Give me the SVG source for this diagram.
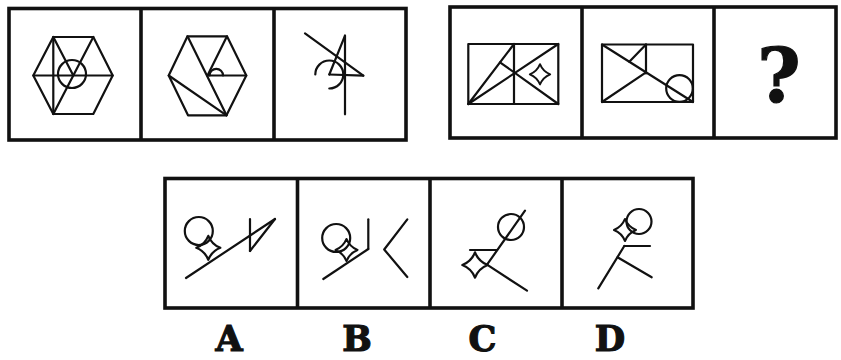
<svg xmlns="http://www.w3.org/2000/svg" xmlns:xlink="http://www.w3.org/1999/xlink" width="841" height="360" viewBox="0 0 841 360">
<style>
.box{fill:none;stroke:#111;stroke-width:3.6}
.f{fill:none;stroke:#111;stroke-width:2.2;stroke-linecap:round;stroke-linejoin:round}
.st{fill:none;stroke:#111;stroke-width:2.2;stroke-linejoin:round;vector-effect:non-scaling-stroke}
.lab{font-family:"DejaVu Serif","Liberation Serif",serif;font-weight:bold;fill:#111;stroke:#111;stroke-width:1.2;text-anchor:middle}
</style>
<defs>
<path id="star" d="M0,-12 Q3.4,-3.4 12,0 Q3.4,3.4 0,12 Q-3.4,3.4 -12,0 Q-3.4,-3.4 0,-12 Z"/>
</defs>
<rect width="841" height="360" fill="#fff"/>

<g id="top-left-row">
<rect class="box" x="9" y="8.5" width="397" height="131.5"/>
<line class="box" x1="141" y1="8.5" x2="141" y2="140"/>
<line class="box" x1="274" y1="8.5" x2="274" y2="140"/>
</g>

<g id="cell1">
<polygon class="f" points="53.3,37 93.3,37 112.7,75.5 93.3,114 53.3,114 33.3,75.5"/>
<line class="f" x1="53.3" y1="37" x2="53.3" y2="114"/>
<line class="f" x1="33.3" y1="75.5" x2="112.7" y2="75.5"/>
<line class="f" x1="93.3" y1="37" x2="53.3" y2="114"/>
<line class="f" x1="53.3" y1="37" x2="73.3" y2="75.5"/>
<circle class="f" cx="72" cy="74" r="14"/>
</g>

<g id="cell2">
<polygon class="f" points="187.5,36.3 227,36.3 246.3,75.5 226.5,115.3 188,115.3 168.7,75.5"/>
<line class="f" x1="187.5" y1="36.3" x2="226.5" y2="115.3"/>
<line class="f" x1="227" y1="36.3" x2="207.5" y2="75.5"/>
<line class="f" x1="207.5" y1="75.5" x2="246.3" y2="75.5"/>
<line class="f" x1="168.7" y1="75.5" x2="226.5" y2="115.3"/>
<path class="f" d="M209.6,75.5 A6.7,6.7 0 0 1 223,75.5"/>
</g>

<g id="cell3">
<line class="f" x1="345" y1="35.7" x2="345" y2="114.3"/>
<line class="f" x1="345" y1="35.7" x2="329.3" y2="74.5"/>
<line class="f" x1="329.3" y1="74.5" x2="363.3" y2="75.7"/>
<line class="f" x1="305" y1="33.3" x2="363.3" y2="75.7"/>
<path class="f" d="M315.3,74.5 A14,14 0 1 1 329.3,88.5"/>
</g>

<g id="top-right-row">
<rect class="box" x="450" y="7" width="386" height="131"/>
<line class="box" x1="582" y1="7" x2="582" y2="138"/>
<line class="box" x1="714" y1="7" x2="714" y2="138"/>
</g>

<g id="cell4">
<rect class="f" x="468.3" y="44" width="90" height="60"/>
<line class="f" x1="514" y1="44" x2="514" y2="104"/>
<line class="f" x1="468.3" y1="104" x2="514" y2="44"/>
<line class="f" x1="468.3" y1="104" x2="558.3" y2="44"/>
<line class="f" x1="500" y1="62.3" x2="558.3" y2="104"/>
<use href="#star" xlink:href="#star" class="st" transform="translate(540,74.3) scale(0.85)"/>
</g>

<g id="cell5">
<rect class="f" x="602" y="44.5" width="91" height="57.5"/>
<line class="f" x1="646" y1="44.5" x2="646" y2="73.5"/>
<line class="f" x1="602" y1="44.5" x2="693" y2="102"/>
<line class="f" x1="602" y1="102" x2="646" y2="72.3"/>
<line class="f" x1="629.3" y1="61.7" x2="646" y2="44.5"/>
<circle class="f" cx="679.5" cy="88.5" r="13.3"/>
</g>

<g id="cell6">
<text class="lab" x="779" y="101.5" font-size="74">?</text>
</g>

<g id="options-row">
<rect class="box" x="165" y="178.5" width="528" height="129.5"/>
<line class="box" x1="297.5" y1="178.5" x2="297.5" y2="308"/>
<line class="box" x1="430" y1="178.5" x2="430" y2="308"/>
<line class="box" x1="562" y1="178.5" x2="562" y2="308"/>
</g>

<g id="optA">
<circle class="f" cx="198.8" cy="231" r="14"/>
<use href="#star" xlink:href="#star" class="st" transform="translate(208.3,247.8)"/>
<line class="f" x1="186" y1="278" x2="275" y2="219"/>
<line class="f" x1="250" y1="219" x2="250" y2="251"/>
<line class="f" x1="250" y1="251" x2="275" y2="219"/>
</g>

<g id="optB">
<circle class="f" cx="336.2" cy="238" r="14"/>
<use href="#star" xlink:href="#star" class="st" transform="translate(346.5,250) scale(0.92)"/>
<line class="f" x1="323.3" y1="279" x2="368.3" y2="249"/>
<line class="f" x1="368.3" y1="219.3" x2="368.3" y2="249"/>
<polyline class="f" points="407.3,219.3 384.2,249.5 407.3,277"/>
</g>

<g id="optC">
<circle class="f" cx="511" cy="227" r="13"/>
<line class="f" x1="525" y1="210.7" x2="487" y2="264.7"/>
<line class="f" x1="470" y1="250" x2="497" y2="250"/>
<line class="f" x1="487" y1="264.7" x2="527" y2="290.7"/>
<use href="#star" xlink:href="#star" class="st" transform="translate(475,265) scale(1.05)"/>
</g>

<g id="optD">
<circle class="f" cx="639" cy="221.5" r="12.5"/>
<use href="#star" xlink:href="#star" class="st" transform="translate(625,230) scale(0.92)"/>
<line class="f" x1="624.3" y1="246" x2="650" y2="246"/>
<line class="f" x1="624.3" y1="246" x2="598.3" y2="288.3"/>
<line class="f" x1="617.5" y1="257.3" x2="651.7" y2="277.3"/>
</g>

<g id="labels">
<text class="lab" x="229" y="351" font-size="35">A</text>
<text class="lab" x="357" y="351" font-size="35">B</text>
<text class="lab" x="482.5" y="351" font-size="35">C</text>
<text class="lab" x="610" y="351" font-size="35">D</text>
</g>
</svg>
